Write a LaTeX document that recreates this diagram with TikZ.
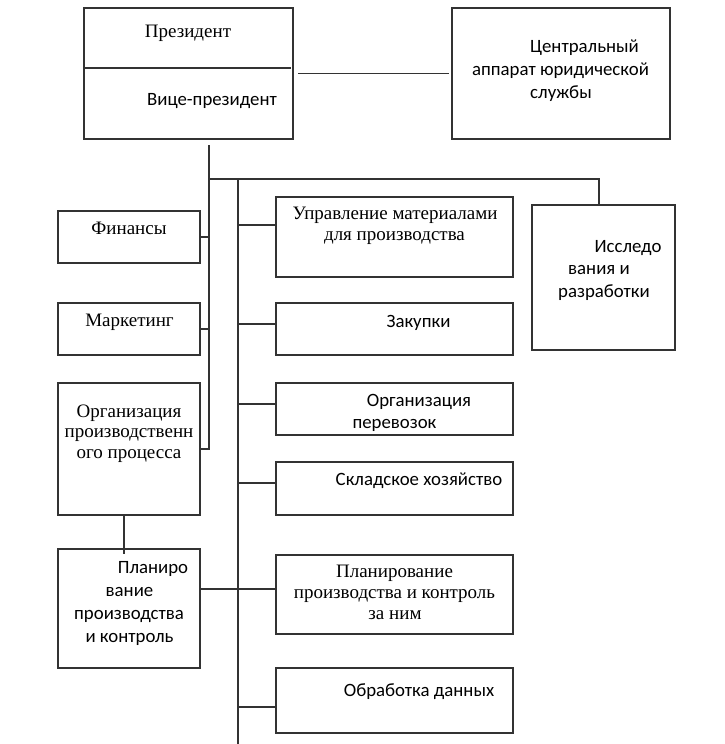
\documentclass[tikz,border=0pt]{standalone}
\usepackage{fontspec}
\setmainfont{Liberation Serif}
\newfontfamily\calib{Carlito}
\begin{document}
\begin{tikzpicture}[x=1pt,y=-1pt,
  box/.style={draw=black!80,line width=1.2pt,inner sep=0pt,outer sep=0pt},
  ln/.style={draw=black!80,line width=1.2pt},
  st/.style={anchor=base,inner sep=0pt,font=\fontsize{19}{21}\selectfont},
  ss/.style={anchor=base,inner sep=0pt,font=\calib\fontsize{18.8}{21}\selectfont}]
\useasboundingbox (0,0) rectangle (725,744);
% boxes
\node[box,minimum width=209,minimum height=131] (pres) at (188.5,73.5) {};
\node[box,minimum width=218,minimum height=131] (legal) at (561,73.5) {};
\node[box,minimum width=142,minimum height=52] (fin) at (129,237) {};
\node[box,minimum width=142,minimum height=52] (mkt) at (129,329) {};
\node[box,minimum width=142,minimum height=132] (orgp) at (129,449) {};
\node[box,minimum width=142,minimum height=119] (plan) at (129,608.5) {};
\node[box,minimum width=237,minimum height=80] (mat) at (394.5,237) {};
\node[box,minimum width=237,minimum height=52] (zak) at (394.5,329) {};
\node[box,minimum width=237,minimum height=52] (per) at (394.5,409) {};
\node[box,minimum width=237,minimum height=53] (skl) at (394.5,488.5) {};
\node[box,minimum width=237,minimum height=79] (ppl) at (394.5,594.5) {};
\node[box,minimum width=237,minimum height=65] (obr) at (394.5,700.5) {};
\node[box,minimum width=143,minimum height=145] (rd) at (603.5,277.5) {};
% texts
\node[st] (t1) at (188,37) {Президент};
\node[ss] (t2) at (212,105) {Вице-президент};
\node[ss] (t3a) at (584.5,52) {Центральный};
\node[ss] (t3b) at (560.5,75) {аппарат юридической};
\node[ss] (t3c) at (561,98) {службы};
\node[st] (t4) at (129,234) {Финансы};
\node[st] (t5) at (129.5,326) {Маркетинг};
\node[st] (t6a) at (395,219.5) {Управление материалами};
\node[st] (t6b) at (394.5,240) {для производства};
\node[ss] (t7) at (418.5,327) {Закупки};
\node[ss] (t8a) at (628,252) {Исследо};
\node[ss] (t8b) at (599,274.5) {вания и};
\node[ss] (t8c) at (604,297) {разработки};
\node[st] (t9a) at (129,417) {Организация};
\node[st] (t9b) at (129,437.5) {производственн};
\node[st] (t9c) at (129,458) {ого процесса};
\node[ss] (t10a) at (419,406) {Организация};
\node[ss] (t10b) at (394.5,428.5) {перевозок};
\node[ss] (t11) at (419,485) {Складское хозяйство};
\node[ss] (t12a) at (153,573) {Планиро};
\node[ss] (t12b) at (129.5,596) {вание};
\node[ss] (t12c) at (129,619) {производства};
\node[ss] (t12d) at (129.5,642) {и контроль};
\node[st] (t13a) at (394.5,577) {Планирование};
\node[st] (t13b) at (394.5,598) {производства и контроль};
\node[st] (t13c) at (395,619) {за ним};
\node[ss] (t14) at (419,696) {Обработка данных};
% connectors
\draw[ln] ([shift={(-1,-5.5)}]pres.west) -- ([shift={(-2,-5.5)}]pres.east);
\draw[ln] ([xshift=5]pres.east) -- ([xshift=-3]legal.west);
\coordinate (a1) at (209,145);
\coordinate (a2) at (209,179);
\coordinate (a3) at (599,179);
\coordinate (b1) at (238,179);
\coordinate (b2) at (238,744);
\draw[ln] (a1) -- (209,0 |- orgp.east) -- (orgp.east);
\draw[ln] (fin.east) -- (209,0 |- fin.east);
\draw[ln] (mkt.east) -- (209,0 |- mkt.east);
\draw[ln] (a2) -- (a3) -- (599,0 |- rd.north);
\draw[ln] (b1) -- (b2);
\draw[ln] (238,225) -- (mat.west |- 0,225);
\draw[ln] (238,324) -- (zak.west |- 0,324);
\draw[ln] (238,404) -- (per.west |- 0,404);
\draw[ln] (238,483) -- (skl.west |- 0,483);
\draw[ln] (238,707) -- (obr.west |- 0,707);
\draw[ln] (plan.east |- 0,589) -- (ppl.west |- 0,589);
\draw[ln] (124,0 |- orgp.south) -- (124,554);
\end{tikzpicture}
\end{document}
